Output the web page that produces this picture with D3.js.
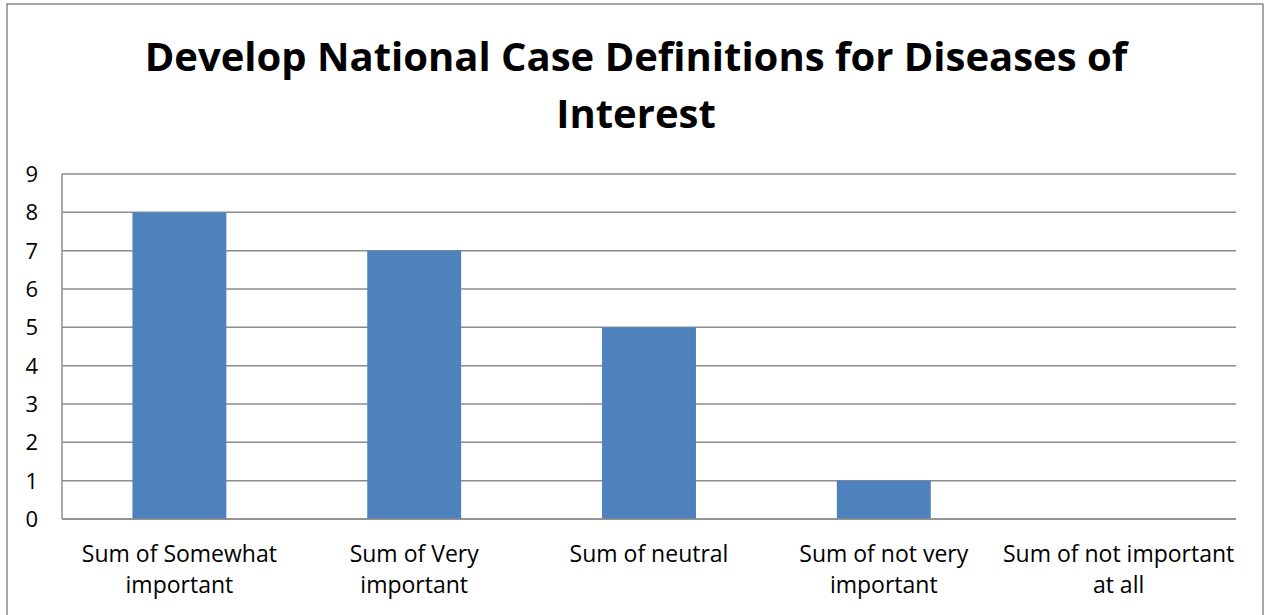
<!DOCTYPE html>
<html><head><meta charset="utf-8">
<script src="https://cdn.jsdelivr.net/npm/d3@7"></script>
<style>body{margin:0;background:#fff}svg{display:block}</style>
</head><body>
<script>
const categories = [["Sum of Somewhat","important"],["Sum of Very","important"],["Sum of neutral"],["Sum of not very","important"],["Sum of not important","at all"]];
const values = [8,7,5,1,0];
const yTicks = [0,1,2,3,4,5,6,7,8,9];
const titleLines = ["Develop National Case Definitions for Diseases of","Interest"];

const W=1266,H=615;
const font="'Open Sans', sans-serif";
const svg=d3.select("body").append("svg").attr("width",W).attr("height",H);
svg.append("rect").attr("x",7).attr("y",4).attr("width",1256).attr("height",640)
  .attr("fill","#fff").attr("stroke","#898989").attr("stroke-width",1.5);

const m={l:62,r:1236,t:174,b:519};
const x=d3.scaleBand().domain(d3.range(categories.length)).range([m.l,m.r]).paddingInner(0.6).paddingOuter(0.3);
const y=d3.scaleLinear().domain([0,9]).range([m.b,m.t]);

svg.append("g").selectAll("line").data(yTicks).join("line")
  .attr("x1",m.l).attr("x2",m.r).attr("y1",d=>y(d)).attr("y2",d=>y(d))
  .attr("stroke","#8c8c8c").attr("stroke-width",1.5);
svg.append("line").attr("x1",m.l).attr("x2",m.l).attr("y1",m.t).attr("y2",m.b).attr("stroke","#8c8c8c").attr("stroke-width",1.5);

svg.append("g").selectAll("rect").data(values).join("rect")
  .attr("x",(d,i)=>x(i)).attr("width",x.bandwidth())
  .attr("y",d=>y(d)).attr("height",d=>y(0)-y(d)).attr("fill","#4f81bd");
svg.append("line").attr("x1",m.l).attr("x2",m.r).attr("y1",y(0)).attr("y2",y(0)).attr("stroke","#8c8c8c").attr("stroke-width",1.5);

svg.append("g").selectAll("text").data(yTicks).join("text")
  .attr("x",38).attr("y",d=>y(d)+8).attr("text-anchor","end")
  .attr("font-family",font).attr("font-size",22).attr("fill","#000").text(d=>d);

const xl=svg.append("g");
categories.forEach((lines,i)=>{
  const t=xl.append("text").attr("text-anchor","middle").attr("font-family",font).attr("font-size",23).attr("fill","#000");
  lines.forEach((s,j)=>t.append("tspan").attr("x",x(i)+x.bandwidth()/2).attr("y",562+j*31).text(s));
});

const tt=svg.append("text").attr("text-anchor","middle").attr("font-family",font).attr("font-weight","bold").attr("font-size",40).attr("fill","#000");
titleLines.forEach((s,j)=>tt.append("tspan").attr("x",636).attr("y",71+j*57).text(s));
</script>
</body></html>
